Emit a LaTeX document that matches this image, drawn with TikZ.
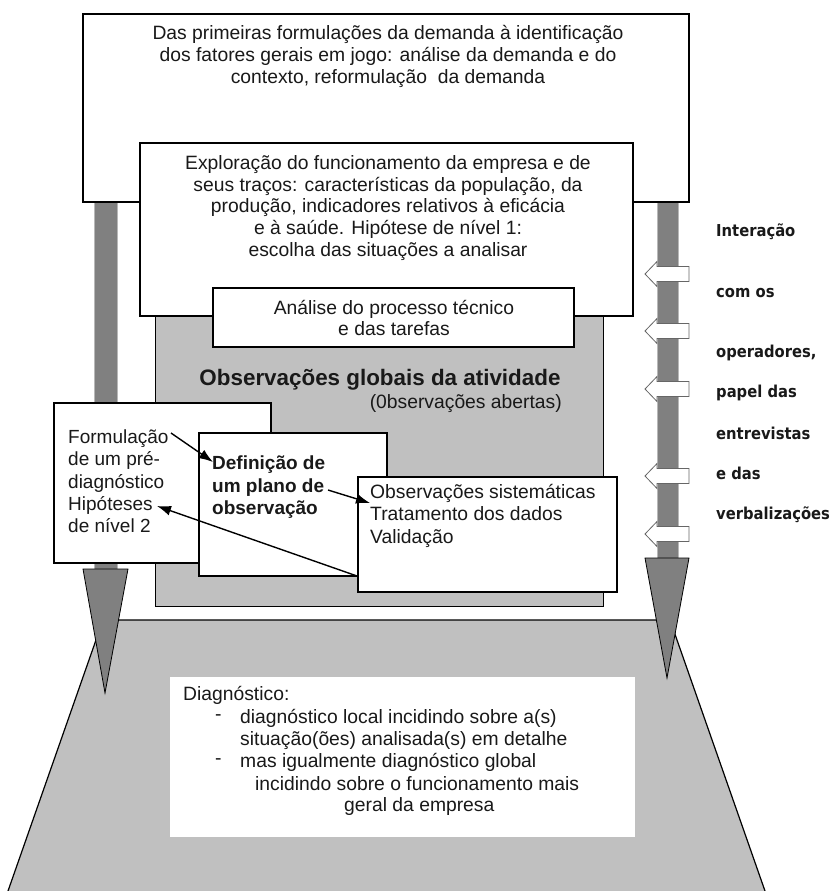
\documentclass[tikz,border=0pt]{standalone}
\usepackage{fontspec}
\setmainfont{Liberation Sans}
\newfontfamily\rfont{DejaVu Sans}[FakeStretch=0.9]
\usetikzlibrary{arrows.meta}
\definecolor{lg}{RGB}{192,192,192}
\definecolor{dg}{RGB}{128,128,128}
\definecolor{eg}{RGB}{184,184,184}
\definecolor{txt}{RGB}{25,25,25}
\begin{document}
\begin{tikzpicture}[x=1pt,y=-1pt,
  every node/.style={text=txt},
  thickbox/.style={draw=black, fill=white, line width=2.2pt},
  thinbox/.style={draw=black, fill=white, line width=1.1pt},
  main/.style={font=\fontsize{19.3}{21.8}\selectfont, inner sep=0pt},
  ctext/.style={main, align=center},
  ltext/.style={main, align=left, anchor=west},
  side/.style={font=\rfont\bfseries\fontsize{16.4}{18}\selectfont, anchor=west, inner sep=0pt},
  conn/.style={line width=1.4pt, -{Latex[length=14pt,width=10pt]}},
  shaft/.style={fill=dg, draw=eg, line width=1pt},
  head/.style={fill=dg, draw=black, line width=0.8pt},
  wedge/.style={fill=white, draw=black!60, line width=0.8pt}
]
\useasboundingbox (0,0) rectangle (832,891);

% base trapezoid
\fill[lg] (8,891) -- (103,620) -- (670,620) -- (765,891) -- cycle;
\draw[line width=1.2pt] (8,891) -- (103,620) -- (670,620) -- (765,891);

% big vertical arrows
\draw[shaft] (94,202) rectangle (117,569);
\draw[head] (83,569) -- (128,569) -- (105,693) -- cycle;
\draw[shaft] (657,201) rectangle (678,558);
\draw[head] (645,558) -- (689,558) -- (667,678) -- cycle;

% small white interaction arrows
\foreach \c in {274,331,389,476,534}{
  \draw[wedge] (689,\c-7.5) -- (657,\c-7.5) -- (657,\c-12.5) -- (645,\c)
     -- (657,\c+12.5) -- (657,\c+7.5) -- (689,\c+7.5) -- cycle;
}

% top box
\draw[thickbox] (83,14) rectangle (689,202);
\node[ctext] (t1) at (388,56.5) {Das primeiras formulações da demanda à identificação\\dos fatores gerais em jogo: análise da demanda e do\\contexto, reformulação\ \ da demanda};

% grey observation area
\draw[fill=lg, draw=black, line width=1pt] (155,300) rectangle (603,606);

% second box
\draw[thickbox, line width=2.5pt] (140,143) rectangle (633,316);
\node[ctext] (t2) at (388,208) {Exploração do funcionamento da empresa e de\\seus traços: características da população, da\\produção, indicadores relativos à eficácia\\e à saúde. Hipótese de nível 1:\\escolha das situações a analisar};

% analysis box
\draw[thickbox, line width=2.5pt] (213,288) rectangle (574,347);
\node[ctext] (t3) at (394,318) {Análise do processo técnico\\e das tarefas};

% titles in grey area
\node[main, font=\bfseries\fontsize{22.4}{24}\selectfont] (og) at (380,380) {Observações globais da atividade};
\node[main, anchor=east] (oa) at (562,404) {(0bservações abertas)};

% three small boxes
\draw[thinbox] (54,403) rectangle (271,563);
\node[ltext, font=\fontsize{19}{22.3}\selectfont] (f1) at (68,481.5) {Formulação\\de um pré-\\diagnóstico\\Hipóteses\\de nível 2};

\draw[thinbox] (199,433) rectangle (387,576);
\node[ltext, font=\bfseries\fontsize{19}{22.5}\selectfont] (f2) at (212,487.5) {Definição de\\um plano de\\observação};

\draw[thinbox] (358,477) rectangle (617,592);
\node[ltext, font=\fontsize{19.3}{22.5}\selectfont] (f3) at (370,515.5) {Observações sistemáticas\\Tratamento dos dados\\Validação};

% connectors
\coordinate (a1s) at (171,433);
\coordinate (a1e) at (213,462);
\coordinate (a2s) at (328,490);
\coordinate (a2e) at (370,503);
\coordinate (a3s) at (357,576);
\coordinate (a3e) at (157,506);
\draw[conn] (a1s) -- (a1e);
\draw[conn] (a2s) -- (a2e);
\draw[conn] (a3s) -- (a3e);

% diagnostic box
\fill[white] (170,677) rectangle (635,837);
\node[ltext] (d0) at (183,695) {Diagnóstico:};
\node[ltext] (b1) at (215,718) {-};
\node[ltext] (d1) at (240,718) {diagnóstico local incidindo sobre a(s)};
\node[ltext] (d2) at (240,741) {situação(ões) analisada(s) em detalhe};
\node[ltext] (b2) at (215,762) {-};
\node[ltext] (d3) at (240,762) {mas igualmente diagnóstico global};
\node[ltext] (d4) at (255,784) {incidindo sobre o funcionamento mais};
\node[ltext] (d5) at (344,806) {geral da empresa};

% side labels
\node[side] (s1) at (716,232) {Interação};
\node[side] (s2) at (716,293) {com os};
\node[side] (s3) at (716,353) {operadores,};
\node[side] (s4) at (716,393) {papel das};
\node[side] (s5) at (716,433) {entrevistas};
\node[side] (s6) at (716,473) {e das};
\node[side] (s7) at (716,515) {verbalizações};
\end{tikzpicture}
\end{document}
